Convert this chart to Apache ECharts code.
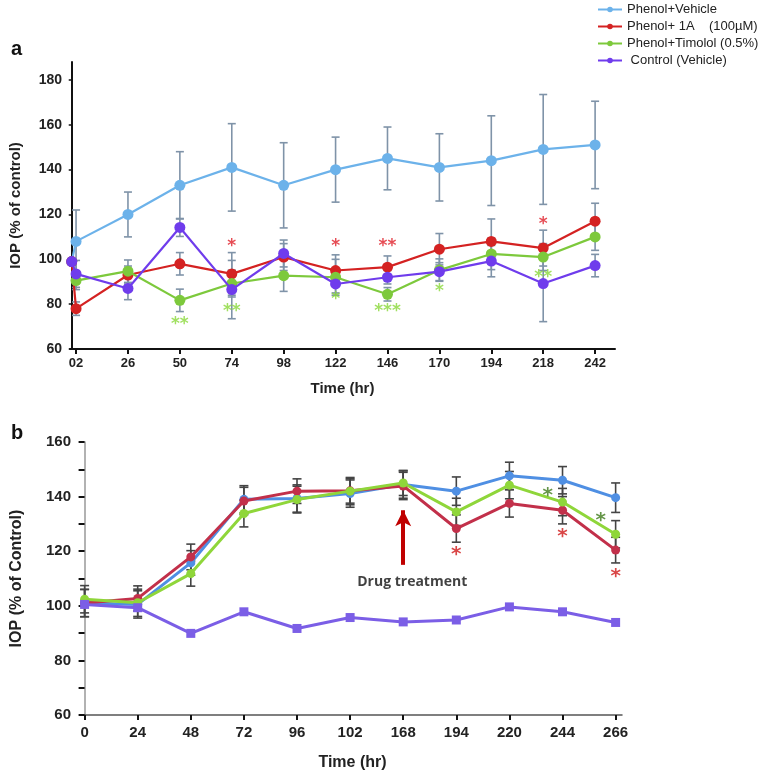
<!DOCTYPE html>
<html><head><meta charset="utf-8">
<script src="https://cdn.jsdelivr.net/npm/echarts@6/dist/echarts.min.js"></script>
<style>html,body{margin:0;padding:0;background:#fff}#c{width:777px;height:775px}</style>
</head><body><div id="c"></div>
<script>
// ---------- Panel a data ----------
const hoursA = [0, 2, 26, 50, 74, 98, 122, 146, 170, 194, 218, 242];
const tickHoursA = [2, 26, 50, 74, 98, 122, 146, 170, 194, 218, 242];
const yTicksA = [60, 80, 100, 120, 140, 160, 180];
const vehicleA = [99, 108, 120, 133, 141, 133, 140, 145, 141, 144, 149, 151];
const vehicleAErr = [0, 14, 10, 15, 19.5, 19, 14.5, 14, 15, 20, 24.5, 19.5];
const oneA_A = [99, 78, 93, 98, 93.5, 101, 95, 96.5, 104.5, 108, 105, 117];
const oneA_AErr = [0, 3, 4, 5, 9.5, 6, 7, 5, 7, 10, 8, 8];
const hoursTimA = [2, 26, 50, 74, 98, 122, 146, 170, 194, 218, 242];
const timololA = [90.5, 94.7, 81.7, 89.2, 92.7, 92, 84.4, 95.2, 102.4, 101, 110];
const timololAErr = [4, 5, 5, 6, 7, 8, 3, 5, 7, 6, 6];
const controlA = [99, 93.5, 87, 114.2, 86.5, 102.6, 89, 92, 94.5, 99.2, 89.2, 97.2];
const controlAErr = [0, 6, 5, 4, 13, 6, 4, 3, 4, 7, 17, 5];
const redStarsA_x = [74, 122, 146, 218];
const redStarsA_y = [105.5, 105.5, 105.5, 115.3];
const redStarsA_t = ['*', '*', '**', '*'];
const greenStarsA_x = [50, 74, 122, 146, 170, 218];
const greenStarsA_y = [71, 76.5, 82, 76.5, 85.5, 92];
const greenStarsA_t = ['**', '**', '*', '***', '*', '**'];

// ---------- Panel b data ----------
const labelsB = ['0', '24', '48', '72', '96', '102', '168', '194', '220', '244', '266'];
const vehicleB = [101, 100.5, 115.7, 139, 139.3, 141.1, 144.4, 142, 147.6, 146, 139.6];
const vehicleBErr = [5, 5, 4.5, 5, 5, 5, 5, 5.2, 5, 5, 5.4];
const oneA_B = [101, 102.7, 117.9, 138.4, 142, 142.1, 143.9, 128.3, 137.5, 135, 120.4];
const oneA_BErr = [5, 4.6, 4.7, 5, 4.5, 4.5, 5, 5, 5, 5, 4.7];
const timololB = [102.4, 101.1, 111.8, 133.8, 138.9, 142, 145, 134.4, 144.2, 138, 126.2];
const timololBErr = [5, 5, 4.6, 4.9, 4.9, 5, 4.6, 5, 5, 5, 5];
const controlB = [100.5, 99.3, 89.9, 97.8, 91.7, 95.7, 94.1, 94.8, 99.6, 97.8, 93.9];
const redStarsB = [[7, 118.5], [9, 125.2], [10, 110.8]];
const greenStarsB = [[8.72, 140.2], [9.72, 131.1]];
const arrowB = [[6, 115], [6, 135]];
const drugTextB = [6.17, 108.7];

const names = ['Phenol+Vehicle', 'Phenol+ 1A    (100\u00b5M)', 'Phenol+Timolol (0.5%)', ' Control (Vehicle)'];
const colA = ['#6cb2ea', '#d42222', '#7dc93c', '#6f3cec'];
const colB = ['#4f8fe3', '#c2304a', '#8fd63a', '#7b5ee6'];
const FONT = "'Liberation Sans Narrow', 'Liberation Sans', Arial, sans-serif";

const pairs = (xs, ys) => xs.map((x, i) => [x, ys[i]]);
const errData = (xs, ys, es) => xs.map((x, i) => [x, ys[i] - es[i], ys[i] + es[i]]).filter((d, i) => es[i] > 0);

function errSeries(xi, yi, data, color, width, cap, z) {
  return {
    type: 'custom', xAxisIndex: xi, yAxisIndex: yi, z: z, silent: true,
    encode: { x: 0, y: [1, 2] }, data: data,
    renderItem: function (params, api) {
      const x = api.value(0);
      const lo = api.coord([x, api.value(1)]);
      const hi = api.coord([x, api.value(2)]);
      const st = { stroke: color, lineWidth: width };
      return { type: 'group', children: [
        { type: 'line', shape: { x1: lo[0], y1: lo[1], x2: hi[0], y2: hi[1] }, style: st },
        { type: 'line', shape: { x1: lo[0] - cap, y1: lo[1], x2: lo[0] + cap, y2: lo[1] }, style: st },
        { type: 'line', shape: { x1: hi[0] - cap, y1: hi[1], x2: hi[0] + cap, y2: hi[1] }, style: st }
      ] };
    }
  };
}
function starSeries(xi, yi, data, color, size) {
  return {
    type: 'scatter', xAxisIndex: xi, yAxisIndex: yi, symbolSize: 0, silent: true, z: 20,
    data: data,
    label: { show: true, position: 'inside', formatter: p => p.name, color: color,
      fontSize: size, fontWeight: 'bold', fontFamily: 'DejaVu Sans' }
  };
}
function lineA(i, xs, ys) {
  return { type: 'line', name: names[i], xAxisIndex: 0, yAxisIndex: 0, data: pairs(xs, ys),
    symbol: 'circle', symbolSize: 11, z: 5 + i,
    lineStyle: { color: colA[i], width: 2.2 }, itemStyle: { color: colA[i] } };
}
function lineB(i, ys, sym) {
  return { type: 'line', name: names[i], xAxisIndex: 1, yAxisIndex: 1,
    data: ys.map((y, k) => [k, y]), symbol: sym, symbolSize: 9, z: 5 + i,
    lineStyle: { color: colB[i], width: 3 }, itemStyle: { color: colB[i] } };
}

const axisLabelStyle = { color: '#222', fontWeight: 'bold', fontFamily: FONT };

const option = {
  animation: false,
  backgroundColor: '#fff',
  legend: {
    orient: 'vertical', left: 592, top: -2, itemGap: 4, itemWidth: 24, itemHeight: 7,
    data: names, selectedMode: false,
    textStyle: { fontFamily: FONT, fontSize: 13, color: '#222' }
  },
  title: [
    { text: 'a', left: 6, top: 34, textStyle: { fontSize: 20, fontWeight: 'bold', color: '#111', fontFamily: 'Liberation Sans' } },
    { text: 'b', left: 6, top: 418, textStyle: { fontSize: 20, fontWeight: 'bold', color: '#111', fontFamily: 'Liberation Sans' } }
  ],
  grid: [
    { left: 70, top: 62, width: 545, height: 287 },
    { left: 83, top: 442, width: 539, height: 273 }
  ],
  xAxis: [
    { type: 'value', gridIndex: 0, min: -0.8, max: 251.2, splitLine: { show: false },
      axisLine: { lineStyle: { color: '#111', width: 2 } },
      axisTick: { customValues: tickHoursA, length: 5, lineStyle: { color: '#111', width: 2 } },
      axisLabel: Object.assign({ customValues: tickHoursA, fontSize: 13, margin: 8,
        formatter: v => (v === 2 ? '02' : String(v)) }, axisLabelStyle),
      name: 'Time (hr)', nameLocation: 'middle', nameGap: 32,
      nameTextStyle: { fontWeight: 'bold', fontSize: 15, color: '#222', fontFamily: FONT } },
    { type: 'value', gridIndex: 1, min: -0.03, max: 10.12, splitLine: { show: false },
      axisLine: { lineStyle: { color: '#555', width: 1.5 } },
      axisTick: { customValues: labelsB.map((s, i) => i), length: 5, lineStyle: { color: '#111', width: 2 } },
      axisLabel: Object.assign({ customValues: labelsB.map((s, i) => i), fontSize: 15, margin: 10,
        formatter: v => labelsB[Math.round(v)] }, axisLabelStyle),
      name: 'Time (hr)', nameLocation: 'middle', nameGap: 40,
      nameTextStyle: { fontWeight: 'bold', fontSize: 16, color: '#222', fontFamily: FONT } }
  ],
  yAxis: [
    { type: 'value', gridIndex: 0, min: 60, max: 188, splitLine: { show: false },
      axisLine: { show: true, lineStyle: { color: '#111', width: 2 } },
      axisTick: { show: true, customValues: yTicksA, length: 3, lineStyle: { color: '#111', width: 1.5 } },
      axisLabel: Object.assign({ customValues: yTicksA, fontSize: 14, margin: 8 }, axisLabelStyle),
      name: 'IOP (% of control)', nameLocation: 'middle', nameGap: 47,
      nameTextStyle: { fontWeight: 'bold', fontSize: 15, color: '#222', fontFamily: 'Liberation Sans' } },
    { type: 'value', gridIndex: 1, min: 60, max: 160, interval: 10, splitLine: { show: false },
      axisLine: { show: true, lineStyle: { color: '#999', width: 1.5 } },
      axisTick: { show: true, length: 6, lineStyle: { color: '#111', width: 2 } },
      axisLabel: Object.assign({ fontSize: 15, margin: 12, formatter: v => (v % 20 === 0 ? String(v) : '') }, axisLabelStyle),
      name: 'IOP (% of Control)', nameLocation: 'middle', nameGap: 58,
      nameTextStyle: { fontWeight: 'bold', fontSize: 16, color: '#222', fontFamily: 'Liberation Sans' } }
  ],
  series: [
    errSeries(0, 0, errData(hoursA, vehicleA, vehicleAErr), '#7f93a8', 1.6, 4, 2),
    errSeries(0, 0, errData(hoursA, oneA_A, oneA_AErr), '#7f93a8', 1.6, 4, 2),
    errSeries(0, 0, errData(hoursTimA, timololA, timololAErr), '#7f93a8', 1.6, 4, 2),
    errSeries(0, 0, errData(hoursA, controlA, controlAErr), '#7f93a8', 1.6, 4, 2),
    lineA(0, hoursA, vehicleA),
    lineA(1, hoursA, oneA_A),
    lineA(2, hoursTimA, timololA),
    lineA(3, hoursA, controlA),
    starSeries(0, 0, redStarsA_x.map((x, i) => ({ value: [x, redStarsA_y[i]], name: redStarsA_t[i] })), '#e0202a', 17),
    starSeries(0, 0, greenStarsA_x.map((x, i) => ({ value: [x, greenStarsA_y[i]], name: greenStarsA_t[i] })), '#8ad83a', 17),

    errSeries(1, 1, errData(labelsB.map((s, i) => i), vehicleB, vehicleBErr), '#444', 1.6, 4.5, 2),
    errSeries(1, 1, errData(labelsB.map((s, i) => i), oneA_B, oneA_BErr), '#444', 1.6, 4.5, 2),
    errSeries(1, 1, errData(labelsB.map((s, i) => i), timololB, timololBErr), '#444', 1.6, 4.5, 2),
    lineB(0, vehicleB, 'circle'),
    lineB(1, oneA_B, 'circle'),
    lineB(2, timololB, 'circle'),
    lineB(3, controlB, 'rect'),
    starSeries(1, 1, redStarsB.map(d => ({ value: d, name: '*' })), '#d01818', 20),
    starSeries(1, 1, greenStarsB.map(d => ({ value: d, name: '*' })), '#3f7a1a', 20),
    {
      type: 'line', xAxisIndex: 1, yAxisIndex: 1, data: [], silent: true, z: 15,
      markLine: { silent: true, symbol: ['none', 'arrow'], symbolSize: [12, 16], label: { show: false },
        lineStyle: { color: '#c00000', width: 4, type: 'solid' },
        data: [[{ coord: arrowB[0] }, { coord: arrowB[1] }]] }
    },
    {
      type: 'scatter', xAxisIndex: 1, yAxisIndex: 1, symbolSize: 0, silent: true, z: 20,
      data: [{ value: drugTextB, name: 'Drug treatment' }],
      label: { show: true, position: 'inside', formatter: p => p.name, color: '#111', fontSize: 14,
        fontWeight: 'bold', fontFamily: "'Open Sans', sans-serif" }
    }
  ]
};
const chart = echarts.init(document.getElementById('c'), null, { renderer: 'canvas' });
chart.setOption(option);
</script></body></html>
